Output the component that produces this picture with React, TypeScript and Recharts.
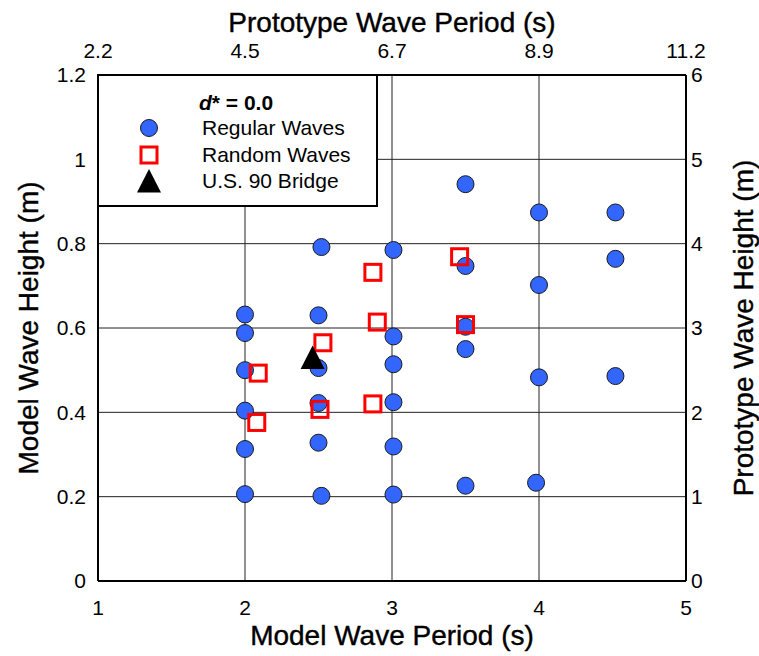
import {
  CartesianGrid,
  Label,
  Legend,
  Scatter,
  ScatterChart,
  XAxis,
  YAxis,
} from 'recharts';

// Model wave period ticks (bottom) and matching prototype labels (top)
const modelPeriodTicks = [1, 2, 3, 4, 5];
const protoPeriodLabels = ['2.2', '4.5', '6.7', '8.9', '11.2'];
const modelHeightTicks = [0, 0.2, 0.4, 0.6, 0.8, 1, 1.2];
const protoHeightTicks = [0, 1, 2, 3, 4, 5, 6];

// [period (s), height (m)]
const regularWaves: [number, number][] = [
  [2, 0.632], [2, 0.588], [2, 0.5], [2, 0.404], [2, 0.313], [2, 0.206],
  [2.52, 0.792], [2.5, 0.63], [2.5, 0.505], [2.5, 0.422], [2.5, 0.328], [2.52, 0.202],
  [3.01, 0.785], [3.01, 0.58], [3.01, 0.514], [3.01, 0.424], [3.01, 0.319], [3.01, 0.205],
  [3.5, 0.941], [3.5, 0.747], [3.5, 0.603], [3.5, 0.55], [3.5, 0.226],
  [4.0, 0.874], [4.0, 0.702], [4.0, 0.483], [3.98, 0.233],
  [4.52, 0.874], [4.52, 0.764], [4.52, 0.486],
];
const randomWaves: [number, number][] = [
  [2.09, 0.493], [2.08, 0.376], [2.53, 0.565], [2.51, 0.407],
  [2.87, 0.732], [2.9, 0.614], [2.87, 0.42], [3.46, 0.769], [3.5, 0.608],
];
const bridge: [number, number][] = [[2.46, 0.53]];

const toPoints = (rows: [number, number][]) => rows.map(([x, y]) => ({ x, y }));

const FONT = '"Liberation Sans", Arial, sans-serif';
const BLUE = '#3366ff';
const RED = '#ff0000';

// eslint-disable-next-line @typescript-eslint/no-explicit-any
const CircleDot = (props: any) => (
  <circle cx={props.cx} cy={props.cy} r={8.5} fill={BLUE} stroke="#1a1a1a" strokeWidth={1} />
);
// eslint-disable-next-line @typescript-eslint/no-explicit-any
const SquareDot = (props: any) => (
  <rect x={props.cx - 8} y={props.cy - 8} width={16} height={16} fill="none" stroke={RED} strokeWidth={3} />
);
// eslint-disable-next-line @typescript-eslint/no-explicit-any
const TriangleDot = (props: any) => {
  const { cx, cy } = props;
  return <path d={`M${cx},${cy - 12} L${cx + 12},${cy + 11.5} L${cx - 12},${cy + 11.5} Z`} fill="#000" />;
};

// Top axis shows prototype periods at the model-period positions
// eslint-disable-next-line @typescript-eslint/no-explicit-any
const TopTick = (props: any) => {
  const { x, y, index } = props;
  return (
    <text x={x} y={y} textAnchor="middle" fill="#000" fontSize={21}>
      {protoPeriodLabels[index]}
    </text>
  );
};

const legendRows = [
  { label: 'Regular Waves', marker: <circle cx={12} cy={12} r={8.5} fill={BLUE} stroke="#1a1a1a" strokeWidth={1} /> },
  { label: 'Random Waves', marker: <rect x={4} y={4} width={16} height={16} fill="none" stroke={RED} strokeWidth={3} /> },
  { label: 'U.S. 90 Bridge', marker: <path d="M12,0 L24,23.5 L0,23.5 Z" fill="#000" /> },
];

function LegendBox() {
  return (
    <div
      style={{
        position: 'relative',
        width: 281,
        height: 133,
        boxSizing: 'border-box',
        border: '2px solid #000',
        background: '#fff',
        fontFamily: FONT,
        fontSize: 21,
        color: '#000',
      }}
    >
      <div style={{ position: 'absolute', left: 100, top: 14, fontWeight: 'bold', lineHeight: '26px' }}>
        <span style={{ fontStyle: 'italic' }}>d</span>* = 0.0
      </div>
      {legendRows.map((row, i) => (
        <div key={row.label}>
          <svg
            width={24}
            height={24}
            style={{ position: 'absolute', left: 38, top: 40 + i * 26.5 }}
          >
            {row.marker}
          </svg>
          <div style={{ position: 'absolute', left: 103, top: 39 + i * 26.5, lineHeight: '26px' }}>
            {row.label}
          </div>
        </div>
      ))}
    </div>
  );
}

export default function App() {
  const tick = { fill: '#000', fontSize: 21 };
  const titleStyle = { fill: '#000', fontSize: 28, stroke: '#000', strokeWidth: 0.4 };
  const axisLine = { stroke: '#000', strokeWidth: 2 };
  return (
    <div style={{ position: 'absolute', left: 0, top: 0, fontFamily: FONT, background: '#fff' }}>
      <ScatterChart width={759} height={656} margin={{ top: 0, right: 0, bottom: 0, left: 0 }}>
        <CartesianGrid stroke="#222" strokeWidth={1} />
        <XAxis
          dataKey="x"
          type="number"
          domain={[1, 5]}
          ticks={modelPeriodTicks}
          height={75}
          tickLine={false}
          tickSize={0}
          tickMargin={19}
          tick={tick}
          axisLine={axisLine}
          allowDataOverflow
        >
          <Label value="Model Wave Period (s)" position="center" dy={17} style={titleStyle} />
        </XAxis>
        {/* same [1,5] domain as the bottom axis, so series on either axis land at the same x */}
        <XAxis
          xAxisId="top"
          dataKey="x"
          orientation="top"
          type="number"
          domain={[1, 5]}
          ticks={modelPeriodTicks}
          interval={0}
          height={75}
          tickLine={false}
          tickSize={0}
          tickMargin={17}
          tick={TopTick}
          axisLine={axisLine}
          allowDataOverflow
        >
          <Label value="Prototype Wave Period (s)" position="center" dy={-15} style={titleStyle} />
        </XAxis>
        <YAxis
          dataKey="y"
          type="number"
          domain={[0, 1.2]}
          ticks={modelHeightTicks}
          width={98}
          tickLine={false}
          tickSize={0}
          tickMargin={12}
          tick={tick}
          axisLine={axisLine}
          allowDataOverflow
        >
          <Label value="Model Wave Height (m)" angle={-90} position="center" dx={-21} style={titleStyle} />
        </YAxis>
        <YAxis
          yAxisId="right"
          orientation="right"
          type="number"
          domain={[0, 6]}
          ticks={protoHeightTicks}
          width={73}
          tickLine={false}
          tickSize={0}
          tickMargin={5}
          tick={tick}
          axisLine={axisLine}
          allowDataOverflow
        >
          <Label value="Prototype Wave Height (m)" angle={-90} position="center" dx={21} style={titleStyle} />
        </YAxis>
        <Legend
          layout="horizontal"
          align="center"
          verticalAlign="middle"
          content={() => <LegendBox />}
          wrapperStyle={{ left: 97, top: 74, width: 281, height: 133 }}
        />
        <Scatter name="Regular Waves" data={toPoints(regularWaves)} shape={CircleDot} isAnimationActive={false} />
        <Scatter
          name="Random Waves"
          xAxisId="top"
          data={toPoints(randomWaves)}
          shape={SquareDot}
          isAnimationActive={false}
        />
        <Scatter name="U.S. 90 Bridge" data={toPoints(bridge)} shape={TriangleDot} isAnimationActive={false} />
      </ScatterChart>
    </div>
  );
}
